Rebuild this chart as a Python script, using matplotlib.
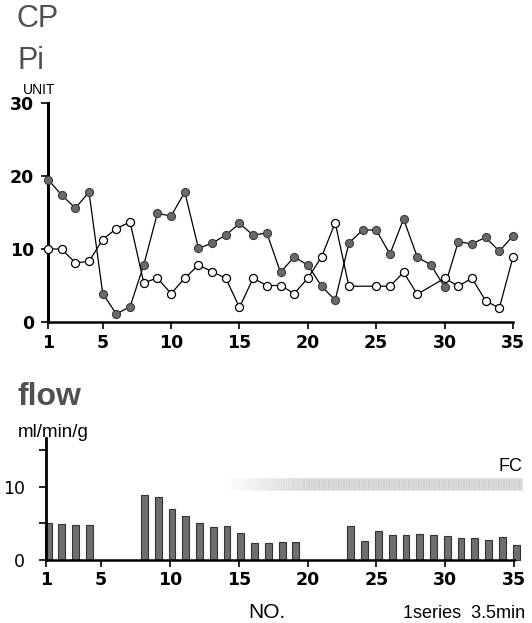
import numpy as np
import matplotlib
matplotlib.use("Agg")
import matplotlib.pyplot as plt

plt.rcParams['font.family'] = ['Liberation Sans', 'DejaVu Sans']

# serie number (1 series = 3.5 min)
no = list(range(1, 36))

# CP (filled circles), UNIT
cp = [19.5, 17.4, 15.6, 17.8, 3.9, 1.1, 2.1, 7.8, 14.9, 14.5,
      17.8, 10.1, 10.8, 11.9, 13.5, 11.9, 12.2, 6.8, 8.9, 7.8,
      4.9, 3.0, 10.8, 12.6, 12.6, 9.3, 14.1, 8.9, 7.8, 4.8,
      11.0, 10.7, 11.6, 9.7, 11.8]

# Pi (open circles), no marker at 24 and 29
pi_no = [1, 2, 3, 4, 5, 6, 7, 8, 9, 10, 11, 12, 13, 14, 15, 16, 17, 18,
         19, 20, 21, 22, 23, 25, 26, 27, 28, 30, 31, 32, 33, 34, 35]
pi = [10.0, 10.0, 8.1, 8.3, 11.3, 12.8, 13.7, 5.4, 6.0, 3.9, 6.0, 7.8,
      6.9, 6.0, 2.0, 6.0, 5.0, 5.0, 3.9, 6.0, 8.9, 13.6, 4.9, 4.9, 4.9,
      6.8, 3.8, 6.0, 4.9, 6.0, 2.9, 1.9, 8.9]

# coronary flow, ml/min/g
flow_no = [1, 2, 3, 4, 8, 9, 10, 11, 12, 13, 14, 15, 16, 17, 18, 19,
           23, 24, 25, 26, 27, 28, 29, 30, 31, 32, 33, 34, 35]
flow = [5.1, 4.9, 4.8, 4.8, 8.9, 8.6, 7.0, 6.0, 5.0, 4.5, 4.7, 3.7, 2.3, 2.3,
        2.5, 2.4, 4.6, 2.6, 4.0, 3.4, 3.4, 3.6, 3.4, 3.3, 3.0, 3.0, 2.7, 3.2, 2.1]

x_ticks = [1, 5, 10, 15, 20, 25, 30, 35]
fc_level = 10.4

W, H = 532, 623
gray_txt = '#505050'
tick_font = dict(family='DejaVu Sans', weight='bold', size=12.5)
fig = plt.figure(figsize=(W / 100, H / 100), dpi=100)


def px(x, y):
    # pixel position (from top-left) -> figure fraction
    return x / W, 1 - y / H


# ---- CP / Pi
ax = fig.add_axes([48 / W, 1 - 322 / H, 465 / W, 219 / H])
ax.plot(no, cp, color='black', lw=0.9, marker='o', ms=5.8,
        mfc='#6a6a6a', mec='#3a3a3a', mew=0.8, clip_on=False, zorder=3)
ax.plot(pi_no, pi, color='black', lw=0.9, marker='o', ms=5.8,
        mfc='white', mec='black', mew=0.9, clip_on=False, zorder=3)
ax.set_xlim(1, 35)
ax.set_ylim(0, 30)
ax.set_yticks([0, 10, 20, 30])
ax.set_xticks(x_ticks)
for s in ['top', 'right']:
    ax.spines[s].set_visible(False)
ax.spines['left'].set_linewidth(2.2)
ax.spines['bottom'].set_linewidth(1.8)
ax.tick_params(axis='both', length=5, width=1.2)
ax.tick_params(axis='y', pad=5)
for t in ax.get_xticklabels() + ax.get_yticklabels():
    t.set(**tick_font)
fig.text(*px(17, 27), 'CP', fontsize=22, color=gray_txt, va='baseline')
fig.text(*px(17, 69), 'Pi', fontsize=22, color=gray_txt, va='baseline')
fig.text(*px(23, 94), 'UNIT', fontsize=10, va='baseline')

# ---- flow
ax2 = fig.add_axes([46 / W, 1 - 560 / H, 468 / W, 122 / H])
ax2.bar([n + 0.15 for n in flow_no], flow, width=0.5, color='#6e6e6e',
        edgecolor='#333333', linewidth=0.8, clip_on=False)
# FC band
xs = np.linspace(14, 35.6, 120)
for i in range(len(xs) - 1):
    a = min(1.0, (xs[i] - 14) / 6.0)
    ax2.plot(xs[i:i + 2], [fc_level, fc_level], color='#cfcfcf', lw=9,
             alpha=a * 0.9, solid_capstyle='butt', clip_on=False)
ax2.text(35.6, fc_level + 1.2, 'FC', fontsize=13, ha='right', va='bottom')
ax2.set_xlim(1, 35)
ax2.set_ylim(0, 16.7)
ax2.set_yticks([0, 5, 10, 15])
ax2.set_yticklabels(['0', '', '10', ''])
ax2.set_xticks(x_ticks)
for s in ['top', 'right']:
    ax2.spines[s].set_visible(False)
ax2.spines['left'].set_linewidth(2.0)
ax2.spines['bottom'].set_linewidth(1.8)
ax2.tick_params(axis='both', length=5, width=1.2, pad=3)
ax2.tick_params(axis='y', pad=10)
for t in ax2.get_xticklabels() + ax2.get_yticklabels():
    t.set(**tick_font)
for t in ax2.get_yticklabels():
    t.set_fontweight('normal')
fig.text(*px(17, 405), 'flow', fontsize=23, color=gray_txt,
         fontweight='bold', va='baseline')
fig.text(*px(18, 437), 'ml/min/g', fontsize=13.5, va='baseline')

fig.text(*px(248, 612), 'NO.', fontsize=15, va='center')
fig.text(*px(403, 614), '1series  3.5min', fontsize=13, va='center')

fig.savefig('out.png', dpi=100)
